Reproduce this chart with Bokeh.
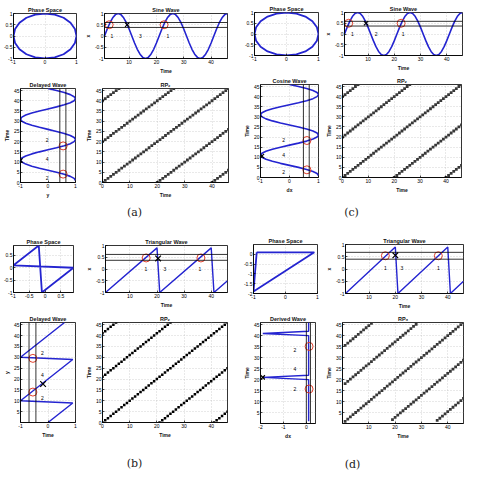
import numpy as np
from bokeh.plotting import figure
from bokeh.layouts import column, row
from bokeh.models import FixedTicker, Span, Range1d, CustomJSTickFormatter
from bokeh.embed import file_html
from bokeh.resources import INLINE
from bokeh.core.properties import value

# ---------------- data ----------------
sample_time = list(range(1, 47))
sine_wave = [0.00, 0.31, 0.59, 0.81, 0.95, 1.00, 0.95, 0.81, 0.59, 0.31,
             0.00, -0.31, -0.59, -0.81, -0.95, -1.00, -0.95, -0.81, -0.59, -0.31,
             0.00, 0.31, 0.59, 0.81, 0.95, 1.00, 0.95, 0.81, 0.59, 0.31,
             0.00, -0.31, -0.59, -0.81, -0.95, -1.00, -0.95, -0.81, -0.59, -0.31,
             0.00, 0.31, 0.59, 0.81, 0.95, 1.00]
cosine_wave = [1.00, 0.95, 0.81, 0.59, 0.31, 0.00, -0.31, -0.59, -0.81, -0.95,
               -1.00, -0.95, -0.81, -0.59, -0.31, 0.00, 0.31, 0.59, 0.81, 0.95,
               1.00, 0.95, 0.81, 0.59, 0.31, 0.00, -0.31, -0.59, -0.81, -0.95,
               -1.00, -0.95, -0.81, -0.59, -0.31, 0.00, 0.31, 0.59, 0.81, 0.95,
               1.00, 0.95, 0.81, 0.59, 0.31, 0.00]

saw_time = [1, 20, 21, 40, 41, 46]
saw_value = [-1.0, 0.9, -1.0, 0.9, -1.0, -0.5]
delayed_saw_time = [0, 9, 10, 29, 30, 46]
delayed_saw_value = [0.0, 0.9, -1.0, 0.9, -1.0, 0.6]
phase_b_x = [-1.0, -0.2, -0.1, 0.9, -1.0]
phase_b_y = [0.1, 0.9, -1.0, 0.0, 0.1]
phase_d_x = [-0.9, 0.9, -1.0, -0.9]
phase_d_y = [0.1, 0.1, -1.9, 0.1]
derived_time = [1, 20, 21, 22, 40, 41, 42, 46]
derived_value = [0.1, 0.1, -1.9, 0.1, 0.1, -1.9, 0.1, 0.1]

rp_offsets_a = [0, 20, -20, 40, -40]
rp_offsets_b = [0, 21, -21, 41, -41]
rp_offsets_c = [0, 20, -20, 40, -40]
rp_offsets_d = [0, 17.2, -17.2, 34.6, -34.6]

# annotations (a)
a_wave_levels = [0.38, 0.60]
a_wave_circle_t = [2.7, 22.8]
a_wave_circle_v = [0.5, 0.5]
a_wave_cross_t = [9.3]
a_wave_cross_v = [0.5]
a_wave_label_t = [3.7, 14.1, 24.2]
a_wave_label_v = [0.0, 0.0, 0.0]
a_wave_label_txt = ["1", "3", "1"]
a_delay_levels = [0.43, 0.65]
a_delay_circle_v = [0.55, 0.55]
a_delay_circle_t = [4.1, 17.9]
a_delay_cross_v = [-1.0]
a_delay_cross_t = [10.8]
a_delay_label_v = [-0.03, -0.03, -0.03]
a_delay_label_t = [20.7, 11.6, 2.4]
a_delay_label_txt = ["2", "4", "2"]
# annotations (c)
c_wave_levels = [0.37, 0.59]
c_wave_circle_t = [2.6, 22.6]
c_wave_circle_v = [0.5, 0.5]
c_wave_cross_t = [9.2]
c_wave_cross_v = [0.5]
c_wave_label_t = [4.0, 13.1, 23.4]
c_wave_label_v = [0.0, 0.0, 0.0]
c_wave_label_txt = ["1", "2", "1"]
c_delay_levels = [0.48, 0.68]
c_delay_circle_v = [0.6, 0.6]
c_delay_circle_t = [3.8, 18.3]
c_delay_cross_v = [-0.95]
c_delay_cross_t = [10.6]
c_delay_label_v = [-0.2, -0.2, -0.2]
c_delay_label_t = [18.6, 10.9, 2.6]
c_delay_label_txt = ["2", "4", "2"]
# annotations (b)
b_wave_levels = [0.37, 0.62]
b_wave_circle_t = [16.0, 36.2]
b_wave_circle_v = [0.47, 0.47]
b_wave_cross_t = [20.4]
b_wave_cross_v = [0.45]
b_wave_label_t = [15.9, 22.9, 35.8]
b_wave_label_v = [0.0, 0.0, 0.0]
b_wave_label_txt = ["1", "3", "1"]
b_delay_levels = [-0.69, -0.44]
b_delay_circle_v = [-0.55, -0.55]
b_delay_circle_t = [14.0, 29.5]
b_delay_cross_v = [-0.18]
b_delay_cross_t = [17.7]
b_delay_label_v = [-0.2, -0.2, -0.2]
b_delay_label_t = [32.0, 22.0, 11.4]
b_delay_label_txt = ["2", "4", "2"]
# annotations (d)
d_wave_levels = [0.40, 0.68]
d_wave_circle_t = [16.2, 36.4]
d_wave_circle_v = [0.54, 0.54]
d_wave_cross_t = [20.0]
d_wave_cross_v = [0.56]
d_wave_label_t = [16.2, 22.5, 36.4]
d_wave_label_v = [0.05, 0.05, 0.05]
d_wave_label_txt = ["1", "3", "1"]
d_delay_levels = [0.0, 0.18]
d_delay_circle_v = [0.12, 0.12]
d_delay_circle_t = [15.7, 35.1]
d_delay_cross_v = [-1.9]
d_delay_cross_t = [21.0]
d_delay_label_v = [-0.5, -0.5, -0.5]
d_delay_label_t = [33.3, 24.6, 15.7]
d_delay_label_txt = ["2", "4", "2"]

panel_labels_top = ["(a)", "(c)"]
panel_labels_bottom = ["(b)", "(d)"]

# ---------------- styling helpers ----------------
FONT = "Liberation Sans"
SERIF = "DejaVu Serif"
BLUE = "#2424d0"
RED = "#e0402c"

tick_fmt = "return String(tick)"


def make_plot(box, frame, xr, yr, xt, yt, title, xlabel=None, ylabel=None):
    ox0, oy0, ox1, oy1 = box
    fx0, fy0, fx1, fy1 = frame
    p = figure(width=ox1 - ox0, height=oy1 - oy0,
               x_range=Range1d(*xr), y_range=Range1d(*yr),
               output_backend="svg", toolbar_location=None,
               min_border_left=fx0 - ox0, min_border_right=ox1 - fx1,
               min_border_top=fy0 - oy0, min_border_bottom=oy1 - fy1,
               title=title)
    p.title.align = "center"
    p.title.text_font = FONT
    p.title.text_font_size = "5.5px"
    p.title.text_font_style = "bold"
    p.title.text_color = "#111111"
    p.title.standoff = 1
    p.outline_line_color = "black"
    p.outline_line_width = 0.8
    p.outline_line_alpha = 1.0
    for ax, grid, ticks, lab in ((p.xaxis[0], p.xgrid[0], xt, xlabel),
                                 (p.yaxis[0], p.ygrid[0], yt, ylabel)):
        tk = FixedTicker(ticks=ticks, minor_ticks=[])
        ax.ticker = tk
        grid.ticker = tk
        ax.formatter = CustomJSTickFormatter(code=tick_fmt)
        ax.major_label_text_font = FONT
        ax.major_label_text_font_size = "5px"
        ax.major_label_text_color = "black"
        ax.major_label_standoff = 1
        ax.major_tick_in = 2
        ax.major_tick_out = 0
        ax.major_tick_line_color = "black"
        ax.major_tick_line_width = 0.7
        ax.minor_tick_line_color = None
        ax.axis_line_color = "black"
        ax.axis_line_width = 0.8
        if lab:
            ax.axis_label = lab
            ax.axis_label_text_font = FONT
            ax.axis_label_text_font_size = "5px"
            ax.axis_label_text_font_style = "bold"
            ax.axis_label_text_color = "#111111"
            ax.axis_label_standoff = 1
        grid.grid_line_color = "#b5b5b5"
        grid.grid_line_dash = "1 2"
        grid.grid_line_width = 0.6
    return p


def add_levels(p, levels, dim):
    for v in levels:
        p.add_layout(Span(location=v, dimension=dim, line_color="black", line_width=0.8))


def add_marks(p, cx, cy, xx, xy, lx, ly, lt, cross_size=7):
    p.scatter(cx, cy, marker="circle", size=8, fill_color=None, line_color=RED, line_width=1)
    p.scatter(xx, xy, marker="x", size=cross_size, line_color="black", line_width=1.2)
    p.text(lx, ly, text=lt, text_font=value(FONT), text_font_size=value("5px"),
           text_align="center", text_baseline="middle", text_color="black")


def add_rp(p, offsets, lo, hi, size, color):
    grid_t = np.arange(lo, hi + 1e-9, 1.0)
    xs, ys = [], []
    for k in offsets:
        for t in grid_t:
            if lo <= t + k <= hi:
                xs.append(float(t))
                ys.append(float(t + k))
    p.scatter(xs, ys, marker="square", size=size, fill_color=color, line_color=None)


def label_fig(x0, x1, y0, y1, xs, ys, texts):
    p = figure(width=x1 - x0, height=y1 - y0, x_range=Range1d(x0, x1), y_range=Range1d(y1, y0),
               output_backend="svg", toolbar_location=None, title=None,
               min_border_left=0, min_border_right=0, min_border_top=0, min_border_bottom=0)
    p.axis.visible = False
    p.grid.visible = False
    p.outline_line_color = None
    p.text(xs, ys, text=texts, text_font=value(SERIF), text_font_size=value("11px"),
           text_align="center", text_baseline="middle", text_color="#222222")
    return p


T5 = [0, 5, 10, 15, 20, 25, 30, 35, 40, 45]
T5n = [5, 10, 15, 20, 25, 30, 35, 40, 45]
T10 = [0, 10, 20, 30, 40]
T10n = [10, 20, 30, 40]
Y1 = [-1, -0.5, 0, 0.5, 1]
X3 = [-1, 0, 1]

# ---------------- panel (a) ----------------
psa = make_plot((8, 8, 89, 84), (19, 21, 84, 75), (-1, 1), (-1, 1), X3, Y1, "Phase Space")
psa.line(sine_wave, cosine_wave, line_color=BLUE, line_width=1.8)

swa = make_plot((89, 8, 248, 84), (107, 21, 235, 69), (1, 46), (-1, 1), T10n, Y1, "Sine Wave", "Time", "x")
add_levels(swa, a_wave_levels, "width")
swa.line(sample_time, sine_wave, line_color=BLUE, line_width=1.6)
add_marks(swa, a_wave_circle_t, a_wave_circle_v, a_wave_cross_t, a_wave_cross_v,
          a_wave_label_t, a_wave_label_v, a_wave_label_txt, 6)

dwa = make_plot((8, 84, 90, 208), (23, 96, 83, 192), (-1, 1), (0, 46), X3, T5, "Delayed Wave", "y", "Time")
add_levels(dwa, a_delay_levels, "height")
dwa.line(cosine_wave, sample_time, line_color=BLUE, line_width=1.6)
add_marks(dwa, a_delay_circle_v, a_delay_circle_t, a_delay_cross_v, a_delay_cross_t,
          a_delay_label_v, a_delay_label_t, a_delay_label_txt, 6)

rpa = make_plot((90, 84, 248, 208), (106, 96, 236, 193), (0, 46), (0, 46), T10, T5, "RP\u2082", "Time", "Time")
add_rp(rpa, rp_offsets_a, 0, 46, 2.8, "#383838")

lab_a = label_fig(8, 248, 208, 236, [142], [220], panel_labels_top[:1])

# ---------------- panel (b) ----------------
psb = make_plot((8, 236, 90, 318), (20, 253, 81, 309), (-1, 0.9), (-1, 0.9),
                [-1, -0.5, 0, 0.5], [-1, -0.5, 0, 0.5], "Phase Space")
psb.line(phase_b_x, phase_b_y, line_color=BLUE, line_width=1.8)

twb = make_plot((90, 236, 248, 318), (106, 252, 235, 303), (1, 46), (-1, 1), T10n, Y1, "Triangular Wave", "Time", "x")
add_levels(twb, b_wave_levels, "width")
twb.line(saw_time, saw_value, line_color=BLUE, line_width=1.4)
add_marks(twb, b_wave_circle_t, b_wave_circle_v, b_wave_cross_t, b_wave_cross_v,
          b_wave_label_t, b_wave_label_v, b_wave_label_txt, 8)

dwb = make_plot((8, 318, 90, 450), (23, 330, 83, 430), (-1, 1), (0, 46), X3, T5n, "Delayed Wave", "Time", "y")
add_levels(dwb, b_delay_levels, "height")
dwb.line(delayed_saw_value, delayed_saw_time, line_color=BLUE, line_width=1.4)
add_marks(dwb, b_delay_circle_v, b_delay_circle_t, b_delay_cross_v, b_delay_cross_t,
          b_delay_label_v, b_delay_label_t, b_delay_label_txt, 8)

rpb = make_plot((90, 318, 248, 450), (105, 330, 235, 430), (0, 46), (0, 46), T10, T5, "RP\u2082", "Time", "Time")
add_rp(rpb, rp_offsets_b, 0, 46, 2.5, "#000000")

lab_b = label_fig(8, 248, 450, 478, [142], [471], panel_labels_bottom[:1])

# ---------------- panel (c) ----------------
psc = make_plot((248, 8, 329, 81), (262, 20, 326, 72), (-1, 1), (-1, 1), X3, Y1, "Phase Space")
psc.line(sine_wave, cosine_wave, line_color=BLUE, line_width=1.8)

swc = make_plot((329, 8, 472, 81), (349, 20, 470, 66), (1, 46), (-1, 1), T10n, Y1, "Sine Wave", "Time", "x")
add_levels(swc, c_wave_levels, "width")
swc.line(sample_time, sine_wave, line_color=BLUE, line_width=1.6)
add_marks(swc, c_wave_circle_t, c_wave_circle_v, c_wave_cross_t, c_wave_cross_v,
          c_wave_label_t, c_wave_label_v, c_wave_label_txt, 6)

cwc = make_plot((248, 81, 330, 208), (264, 91, 326, 185), (-1, 1), (0, 46), X3, T5, "Cosine Wave", "dx", "Time")
add_levels(cwc, c_delay_levels, "height")
cwc.line(cosine_wave, sample_time, line_color=BLUE, line_width=1.6)
add_marks(cwc, c_delay_circle_v, c_delay_circle_t, c_delay_cross_v, c_delay_cross_t,
          c_delay_label_v, c_delay_label_t, c_delay_label_txt, 6)

rpc = make_plot((330, 81, 472, 208), (347, 92, 469, 185), (0, 46), (0, 46), T10, T5, "RP\u2082", "Time", "Time")
add_rp(rpc, rp_offsets_c, 0, 46, 2.8, "#383838")

lab_c = label_fig(248, 472, 208, 236, [359], [220], panel_labels_top[1:])

# ---------------- panel (d) ----------------
psd = make_plot((248, 236, 330, 319), (260, 252, 325, 310), (-1, 1), (-2, 0.5),
                X3, [-2, -1.5, -1, -0.5, 0], "Phase Space")
psd.line(phase_d_x, phase_d_y, line_color=BLUE, line_width=1.8)

twd = make_plot((330, 236, 472, 319), (348, 252, 471, 305), (1, 46), (-1, 1), T10n, Y1, "Triangular Wave", "Time", "x")
add_levels(twd, d_wave_levels, "width")
twd.line(saw_time, saw_value, line_color=BLUE, line_width=1.4)
add_marks(twd, d_wave_circle_t, d_wave_circle_v, d_wave_cross_t, d_wave_cross_v,
          d_wave_label_t, d_wave_label_v, d_wave_label_txt, 8)

dwd = make_plot((248, 319, 330, 450), (262, 328, 323, 431), (-2, 0.4), (0, 46),
                [-2, -1, 0], T5n, "Derived Wave", "dx", "Time")
add_levels(dwd, d_delay_levels, "height")
dwd.line(derived_value, derived_time, line_color=BLUE, line_width=1.4)
add_marks(dwd, d_delay_circle_v, d_delay_circle_t, d_delay_cross_v, d_delay_cross_t,
          d_delay_label_v, d_delay_label_t, d_delay_label_txt, 6)

rpd = make_plot((330, 319, 472, 450), (347, 330, 471, 431), (0, 46), (0, 46), T10n, T5n, "RP\u2083", "Time", "Time")
add_rp(rpd, rp_offsets_d, 1, 46, 2.8, "#383838")

lab_d = label_fig(248, 472, 450, 478, [360], [472], panel_labels_bottom[1:])

left = column(row(psa, swa), row(dwa, rpa), lab_a, row(psb, twb), row(dwb, rpb), lab_b)
right = column(row(psc, swc), row(cwc, rpc), lab_c, row(psd, twd), row(dwd, rpd), lab_d)
layout = row(left, right)

open("out.html", "w").write(file_html(layout, INLINE))
